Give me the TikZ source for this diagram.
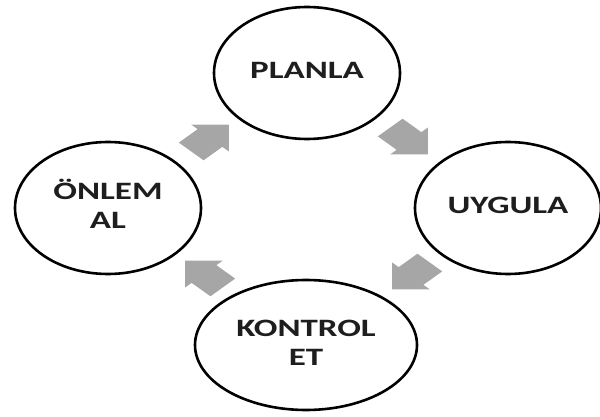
\documentclass[tikz,border=0pt]{standalone}
\usepackage{fontspec}
\usepackage{graphicx}
\setmainfont{Carlito}
\usetikzlibrary{shapes.geometric}
\definecolor{arrowgray}{HTML}{A6A6A6}
\definecolor{txt}{HTML}{1E1E1E}
\newcommand\lbl[1]{\scalebox{1.4}[1]{\fontsize{25}{29.5}\selectfont\bfseries\begin{tabular}{@{}c@{}}#1\end{tabular}}}
\tikzset{
  cyc/.style={ellipse, draw=black, line width=2.6pt, fill=white, inner sep=0pt,
    minimum width=186pt, minimum height=132pt, text=txt},
  blockarrow/.style={fill=arrowgray, draw=none}
}
\newcommand\cycarrow[3]{%
  \begin{scope}[shift={#1}, xscale=1.4, rotate=#2]
    \fill[blockarrow] (-19,-12.5) -- (0,-12.5) -- (0,-19) -- (19,0) -- (0,19) -- (0,12.5) -- (-19,12.5) -- cycle;
    \coordinate (#3) at (0,0);
  \end{scope}}
\begin{document}
\begin{tikzpicture}[x=1pt,y=-1pt]
\useasboundingbox (0,0) rectangle (600,417);
\node[cyc] (plan) at (307,73) {\lbl{PLANLA}};
\node[cyc] (uyg) at (508,208) {\lbl{UYGULA}};
\node[cyc, minimum width=222pt, minimum height=130pt] (kont) at (306,345) {\lbl{KONTROL\\ET}};
\node[cyc] (onl) at (108,208) {\lbl{ÖNLEM\\AL}};
\cycarrow{(210,138)}{45}{a1}
\cycarrow{(409,141)}{-45}{a2}
\cycarrow{(411,276)}{-135}{a3}
\cycarrow{(204,274)}{135}{a4}
\end{tikzpicture}
\end{document}
